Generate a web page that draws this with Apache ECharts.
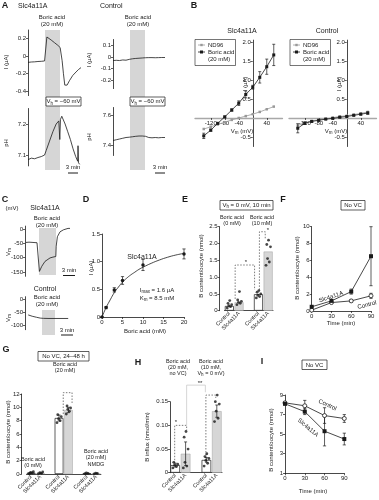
<!DOCTYPE html>
<html><head><meta charset="utf-8">
<script src="https://cdn.jsdelivr.net/npm/echarts@6/dist/echarts.min.js"></script>
<style>html,body{margin:0;padding:0;background:#fff}#c{width:379px;height:500px}</style>
</head><body><div id="c"></div>
<script>
// ================= DATA =================
// Panel A: traces, [time (min), value]
const aSlcCurrent = [[0,-0.07],[1,-0.066],[2,-0.064],[3,-0.06],[4,-0.058],[5,-0.054],[5.6,-0.05],[5.7,0.22],[6.2,0.21],[7,0.185],[8,0.155],[9,0.125],[9.7,0.1],[10,0.08],[10.3,-0.05],[10.7,-0.2],[11.1,-0.33],[11.3,-0.35],[11.8,-0.33],[12.5,-0.28],[13.5,-0.22],[14.5,-0.18],[15.3,-0.15],[16,-0.13]];
const aCtlCurrent = [[0,-0.03],[1,-0.028],[2,-0.03],[3,-0.025],[4,-0.027],[5,-0.02],[6,-0.015],[7,-0.012],[8,-0.01],[9,-0.008],[10,-0.006],[11,-0.005],[12,-0.005],[13,-0.006],[14,-0.005],[15,-0.004],[16,-0.004]];
const aSlcPH = [[0,7.085],[1,7.09],[2,7.088],[3,7.092],[4,7.095],[4.5,7.098],[5,7.1],[5.5,7.115],[6.5,7.145],[7.5,7.175],[8.5,7.2],[9.3,7.21],[9.6,7.15],[9.8,7.215],[10.2,7.225],[10.6,7.22],[11.2,7.2],[12,7.175],[12.8,7.15],[13.6,7.12],[14.4,7.095],[15,7.08],[15.1,7.13],[15.25,7.075],[15.6,7.07]];
const aCtlPH = [[0,7.43],[1,7.435],[2,7.44],[3,7.445],[4,7.45],[5,7.452],[6,7.455],[7,7.458],[8,7.46],[9,7.46],[10,7.458],[11,7.45],[12,7.448],[13,7.45],[14,7.448],[15,7.45],[16,7.45]];
const aSlcCurrentTicks = [-0.4,-0.2,0,0.2];
const aCtlCurrentTicks = [-0.2,-0.1,0,0.1];
const aSlcPHTicks = [7.1,7.2];
const aCtlPHTicks = [7.4,7.6];

// Panel B: I-V curves
const ivVoltages = [-140,-120,-100,-80,-60,-40,-20,0,20,40,60];
const bSlcBoric = [-0.47,-0.32,-0.14,0.03,0.21,0.39,0.62,0.81,1.07,1.35,1.66];
const bSlcBoricErr = [0.07,0.03,0.02,0.02,0.03,0.06,0.09,0.05,0.15,0.2,0.28];
const bSlcND96 = [-0.29,-0.23,-0.17,-0.11,-0.05,0.0,0.05,0.1,0.16,0.23,0.3];
const bCtlBoric = [-0.27,-0.14,-0.09,-0.06,-0.03,-0.01,0.02,0.04,0.07,0.1,0.13];
const bCtlBoricErr = [0.12,0.03,0.02,0.02,0.01,0.01,0.01,0.01,0.01,0.02,0.03];
const bCtlND96 = [-0.2,-0.12,-0.08,-0.05,-0.02,0.01,0.04,0.06,0.09,0.12,0.16];
const bVoltTicks = [-120,-80,-40,40];
const bCurrTicks = [-0.5,0.5,1.0,1.5,2.0];

// Panel C: membrane potential traces [time (min), mV]
const cSlcVm = [[0.25,-47],[1,-46],[2,-47],[3,-48],[3.5,-48],[3.6,-148],[4.2,-130],[5,-113],[6.25,-101],[7,-98],[7.7,-96],[7.8,-60],[8.1,-27],[8.75,-10],[9.6,-3],[10.75,2],[11.25,2]];
const cCtlVm = [[0.8,-59],[1.8,-64],[2.9,-68],[3.8,-71],[4.6,-72],[6,-72.5],[8,-72.5],[10.8,-72.5]];
const cSlcTicks = [-150,-100,-50,0];
const cCtlTicks = [-100,-50,0];

// Panel D: dose response
const dConc = [0,1,3,5,10,20];
const dCurrent = [0,0.17,0.49,0.66,0.94,1.14];
const dErr = [0,0.02,0.04,0.07,0.1,0.09];
const dFit = [[0,0],[1,0.17],[2,0.31],[3,0.44],[4,0.54],[5,0.63],[6,0.7],[7,0.76],[8,0.81],[9,0.86],[10,0.9],[12,0.97],[14,1.03],[16,1.08],[18,1.12],[20,1.15]];
const dConcTicks = [0,5,10,15,20];
const dCurrTicks = [0,0.5,1.0,1.5];

// Panel E: B content (nmol), Vh = 0 mV, 10 min
const eCats = ['Control','Slc4a11A','','Control','Slc4a11A'];
const eMeans = [0.14,0.25,null,0.49,1.76];
const eDotsCtl0 = [0.08,0.12,0.15,0.18,0.22,0.3];
const eDotsSlc0 = [0.18,0.22,0.25,0.28,0.32,0.57];
const eDotsCtl10 = [0.38,0.42,0.46,0.5,0.55,0.6];
const eDotsSlc10 = [1.35,1.45,1.55,1.9,1.97,2.1];
const eTicks = [0,0.5,1.0,1.5,2.0,2.5];

// Panel F: B content over time (no VC)
const fTimes = [0,30,60,90];
const fSlc = [0.5,1.2,2.3,6.5];
const fSlcErr = [0.1,0.2,0.3,3.5];
const fCtl = [0.1,1.0,1.2,1.8];
const fCtlErr = [0.05,0.1,0.15,0.3];
const fTimeTicks = [0,30,60,90];
const fContentTicks = [0,2,4,6,8,10];

// Panel G: 24-48 h
const gCats = ['Control','Slc4a11A','','Control','Slc4a11A','','Control','Slc4a11A'];
const gMeans = [0.2,0.12,null,8.4,9.6,null,0.08,0.08];
const gErr = [0.05,0.05,null,0.45,0.4,null,0.03,0.03];
const gDotsCtl0 = [0.05,0.15,0.25,0.35,0.1];
const gDotsSlc0 = [0.05,0.1,0.2,0.3];
const gDotsCtl20 = [7.7,8.0,8.3,8.6,8.9];
const gDotsSlc20 = [9.0,9.4,9.7,9.9,10.2];
const gDotsCtlNMDG = [0.05,0.1,0.15];
const gDotsSlcNMDG = [0.03,0.08,0.12];
const gTicks = [0,2,4,6,8,10,12];

// Panel H: B influx (nmol/min)
const hCats = ['Control','Slc4a11A','','Control','Slc4a11A'];
const hMeans = [0.016,0.04,null,0.027,0.13];
const hErr = [0.004,0.025,null,0.005,0.013];
const hDotsCtl20 = [0.01,0.013,0.016,0.018,0.022];
const hDotsSlc20 = [0.01,0.014,0.022,0.05,0.075,0.087];
const hDotsCtl10 = [0.014,0.02,0.026,0.03,0.034,0.04];
const hDotsSlc10 = [0.108,0.115,0.13,0.145,0.15,0.164];
const hTicks = [0,0.05,0.10,0.15];

// Panel I: efflux (no VC)
const iTimes = [0,30,60,90];
const iCtl = [8.2,7.9,6.9,6.6];
const iCtlErr = [0.1,0.55,0.8,0.4];
const iSlc = [8.1,7.3,5.3,4.5];
const iSlcErr = [0.1,0.3,1.5,0.6];
const iTimeTicks = [0,30,60,90];
const iContentTicks = [1,3,5,7,9];

// ================= BUILD =================
const FF = '"Liberation Sans", Arial, sans-serif';
const INK = '#1a1a1a';
const GFILL = '#d6d6d6';
const option = {animation:false, textStyle:{fontFamily:FF}, grid:[], xAxis:[], yAxis:[], series:[], graphic:{elements:[]}};
const GR = option.graphic.elements;
const SUB = {s:{fontSize:4.5, fontFamily:FF, fill:INK, padding:[3,0,0,0]}};

function fmtNum(d){ return v => (Math.abs(v)<1e-9 ? '0' : v.toFixed(d)); }
function vAxis(min,max,ticks,o){ o=o||{};
  const has = !!(ticks && ticks.length);
  const ax = {type:'value', min:min, max:max, show:o.show!==false, offset:o.offset||0,
    axisLine:{show:true, onZero:false, lineStyle:{color:o.lineColor||INK, width:o.lineWidth||0.8}},
    axisTick:has?{show:true,length:2,customValues:ticks,lineStyle:{color:INK,width:0.7}}:{show:false},
    axisLabel:has?{show:true,customValues:ticks,fontSize:6,color:INK,fontFamily:FF,margin:2,formatter:o.fmt,hideOverlap:false}:{show:false},
    splitLine:{show:false}};
  if (o.position) ax.position = o.position;
  return ax;
}
function hiddenX(min,max){ return {type:'value',min:min,max:max,show:false}; }
function catAxis(cats){ return {type:'category', data:cats, boundaryGap:true,
  axisLine:{show:true,lineStyle:{color:INK,width:0.8}}, axisTick:{show:false},
  axisLabel:{show:true,interval:0,rotate:45,fontSize:5.5,color:INK,fontFamily:FF,margin:2}, splitLine:{show:false}}; }
function addGrid(box,xa,ya){ const gi=option.grid.length; option.grid.push(Object.assign({show:false},box));
  xa.gridIndex=gi; ya.gridIndex=gi; option.xAxis.push(xa); option.yAxis.push(ya);
  return {gi:gi, xi:option.xAxis.length-1, yi:option.yAxis.length-1}; }
function addX(gi,xa){ xa.gridIndex=gi; option.xAxis.push(xa); return option.xAxis.length-1; }
function trace(ax,data,o){ o=o||{}; option.series.push({type:'line',xAxisIndex:o.xi!=null?o.xi:ax.xi,yAxisIndex:ax.yi,data:data,symbol:'none',showSymbol:false,
  lineStyle:{color:o.color||INK,width:o.w||0.8,type:o.type||'solid'},smooth:!!o.smooth,silent:true,z:o.z||3,clip:o.clip!==false}); }
function marked(ax,data,o){ option.series.push({type:'line',xAxisIndex:ax.xi,yAxisIndex:ax.yi,data:data,symbol:o.symbol,symbolSize:o.size,showSymbol:true,
  lineStyle:{color:o.color,width:o.noLine?0:0.8,opacity:o.noLine?0:1},itemStyle:{color:o.fill,borderColor:o.color,borderWidth:o.bw||0,opacity:1},z:o.z||4,silent:true,clip:false}); }
function errBars(ax,pts,o){ o=o||{}; const col=o.color||INK, cap=o.cap||1.5;
  option.series.push({type:'custom',xAxisIndex:o.xi!=null?o.xi:ax.xi,yAxisIndex:ax.yi,z:o.z||3,silent:true,clip:false,encode:{x:0,y:1},data:pts,
    renderItem:function(p,api){ const x=api.value(0),y=api.value(1),e=api.value(2);
      const t=api.coord([x,y+e]), b=api.coord([x,y-e]); const st={stroke:col,lineWidth:0.7};
      return {type:'group',children:[
        {type:'line',shape:{x1:t[0],y1:t[1],x2:b[0],y2:b[1]},style:st},
        {type:'line',shape:{x1:t[0]-cap,y1:t[1],x2:t[0]+cap,y2:t[1]},style:st},
        {type:'line',shape:{x1:b[0]-cap,y1:b[1],x2:b[0]+cap,y2:b[1]},style:st}]}; }}); }
function bars(ax,cats,values,bw){ option.series.push({type:'bar',xAxisIndex:ax.xi,yAxisIndex:ax.yi,barWidth:bw,silent:true,z:2,
  data:values.map((v,i)=> v==null?null:{value:v,itemStyle: cats[i]==='Control'?{color:'#fff',borderColor:INK,borderWidth:0.7}:{color:GFILL,borderColor:'#a0a0a0',borderWidth:0.5}})}); }
const JIT=[-0.22,0.12,-0.06,0.24,-0.14,0.04,0.2];
function dots(ax,xi,groups){ const data=[]; groups.forEach(g=>g[1].forEach((v,k)=>data.push([g[0]+JIT[k%JIT.length],v])));
  option.series.push({type:'scatter',xAxisIndex:xi,yAxisIndex:ax.yi,data:data,symbol:'circle',symbolSize:2.8,itemStyle:{color:INK},z:6,silent:true,clip:false}); }
function T(x,y,text,o){ o=o||{}; GR.push({type:'text',x:x,y:y,rotation:o.rot||0,z:100,silent:true,
  style:{text:text,fontSize:o.fs||6,fontFamily:FF,fill:o.c||INK,fontWeight:o.fw||'normal',align:o.align||'center',verticalAlign:'middle',rich:o.rich}}); }
function R(x,y,w,h,o){ o=o||{}; GR.push({type:'rect',shape:{x:x,y:y,width:w,height:h},z:o.z!=null?o.z:0,silent:true,
  style:{fill:o.fill||'none',stroke:o.stroke||null,lineWidth:o.lw||0.7}}); }
function L(x1,y1,x2,y2,o){ o=o||{}; GR.push({type:'line',shape:{x1:x1,y1:y1,x2:x2,y2:y2},z:o.z||50,silent:true,style:{stroke:o.c||INK,lineWidth:o.lw||1}}); }
function BOX(x,y,w,h,text,rich){ R(x,y,w,h,{fill:'#fff',stroke:INK,lw:0.7,z:60}); T(x+w/2,y+h/2+0.3,text,{rich:rich}); }
const ROT = Math.PI/2;
const VM = {n:{fontSize:6,fontFamily:FF,fill:INK},s:SUB.s};

// ---------- Panel A ----------
R(45,30,15,140,{fill:GFILL}); R(130,30,15,140,{fill:GFILL});
const aI1 = addGrid({left:28,top:30,width:53,height:65.6}, hiddenX(0,16), vAxis(-0.45,0.3,aSlcCurrentTicks));
trace(aI1,aSlcCurrent);
const aP1 = addGrid({left:28,top:108.5,width:53,height:57.4}, hiddenX(0,16), vAxis(7.065,7.25,aSlcPHTicks,{fmt:fmtNum(1)}));
trace(aP1,aSlcPH);
const aI2 = addGrid({left:113,top:39.5,width:52,height:49.1}, hiddenX(0,16), vAxis(-0.27,0.15,aCtlCurrentTicks));
trace(aI2,aCtlCurrent);
const aP2 = addGrid({left:113,top:107.5,width:52,height:48}, hiddenX(0,16), vAxis(7.33,7.65,aCtlPHTicks,{fmt:fmtNum(1)}));
trace(aP2,aCtlPH);
T(5,6,'A',{fs:9,fw:'bold'});
T(18,6,'Slc4a11A',{fs:7,align:'left'}); T(100,6,'Control',{fs:7,align:'left'});
T(52,17,'Boric acid'); T(52,24.5,'(20 mM)'); T(138,17,'Boric acid'); T(138,24.5,'(20 mM)');
BOX(46,97,35,9,'{n|V}{s|h}{n| = −60 mV}',VM);
BOX(130,97,35,9,'{n|V}{s|h}{n| = −60 mV}',VM);
T(6,62,'I (μA)',{rot:ROT}); T(6,143,'pH',{rot:ROT}); T(89,60,'I (μA)',{rot:ROT}); T(89,137,'pH',{rot:ROT});
L(68,173,78,173); T(73,167.5,'3 min'); L(155,173,165,173); T(160,167.5,'3 min');

// ---------- Panel B ----------
const B_TOP = 40.1, B_H = 106.4, B_W = 87.5;
const B_VMIN = -165, B_VMAX = 85, B_IMIN = -0.75, B_IMAX = 2.05;
function ivPanel(left, nd, bo, be){
  const yZero = B_H * (B_IMAX - 0) / (B_IMAX - B_IMIN);
  const xZero = B_W * (0 - B_VMIN) / (B_VMAX - B_VMIN);
  const ax = addGrid({left:left,top:B_TOP,width:B_W,height:B_H},
    vAxis(B_VMIN,B_VMAX,bVoltTicks,{position:'bottom',offset:-(B_H - yZero),lineColor:'#a8a8a8',lineWidth:1.3}),
    vAxis(B_IMIN,B_IMAX,bCurrTicks,{position:'left',offset:-xZero,fmt:fmtNum(1)}));
  marked(ax, ivVoltages.map((v,i)=>[v,nd[i]]), {symbol:'rect',size:2.5,color:'#999',fill:'#999'});
  marked(ax, ivVoltages.map((v,i)=>[v,bo[i]]), {symbol:'rect',size:3,color:INK,fill:INK,z:5});
  errBars(ax, ivVoltages.map((v,i)=>[v,bo[i],be[i]]), {cap:1.5,z:5});
  return ax;
}
ivPanel(195,bSlcND96,bSlcBoric,bSlcBoricErr);
ivPanel(289,bCtlND96,bCtlBoric,bCtlBoricErr);
T(194,6,'B',{fs:9,fw:'bold'});
T(242,31,'Slc4a11A',{fs:7}); T(327,31,'Control',{fs:7});
function ivLegend(x){ R(x,39.5,40.5,26,{fill:'#fff',stroke:INK,lw:0.6,z:60});
  L(x+3,45,x+10,45,{c:'#999',lw:0.8,z:61}); R(x+5.3,43.8,2.4,2.4,{fill:'#999',z:62}); T(x+13,45,'ND96',{align:'left'});
  L(x+3,52,x+10,52,{c:INK,lw:0.8,z:61}); R(x+5,50.5,3,3,{fill:INK,z:62}); T(x+13,52,'Boric acid',{align:'left'}); T(x+13,59,'(20 mM)',{align:'left'}); }
ivLegend(195); ivLegend(290);
T(245,84,'I (μA)',{rot:ROT}); T(339,84,'I (μA)',{rot:ROT});
T(242,131,'{n|V}{s|m}{n| (mV)}',{rich:VM}); T(336,131,'{n|V}{s|m}{n| (mV)}',{rich:VM});

// ---------- Panel C ----------
R(39,228,17,47,{fill:GFILL}); R(42,310,13,25,{fill:GFILL});
const cS = addGrid({left:25,top:226.1,width:45,height:50.2}, hiddenX(0,11.25), vAxis(-165,10,cSlcTicks));
trace(cS,cSlcVm);
const cC = addGrid({left:25,top:296.7,width:45,height:33}, hiddenX(0,11.25), vAxis(-115,10,cCtlTicks));
trace(cC,cCtlVm);
T(5,200,'C',{fs:9,fw:'bold'});
T(12,208,'(mV)'); T(45,208.5,'Slc4a11A',{fs:7}); T(47,218,'Boric acid'); T(47,225,'(20 mM)');
T(8,252,'{n|V}{s|m}',{rot:ROT,rich:VM}); T(8,318,'{n|V}{s|m}',{rot:ROT,rich:VM});
T(45,289,'Control',{fs:7}); T(47,297,'Boric acid'); T(47,304,'(20 mM)');
L(63,275.5,75,275.5); T(69,270.5,'3 min'); L(61,335,73,335); T(67,330.5,'3 min');

// ---------- Panel D ----------
const dA = addGrid({left:102,top:234,width:82,height:83}, vAxis(0,20,dConcTicks), vAxis(0,1.5,dCurrTicks,{fmt:fmtNum(1)}));
trace(dA,dFit,{smooth:true,clip:false});
marked(dA, dConc.map((c,i)=>[c,dCurrent[i]]), {symbol:'circle',size:3.5,color:INK,fill:INK,z:5,noLine:true});
errBars(dA, dConc.map((c,i)=>[c,dCurrent[i],dErr[i]]), {cap:1.6,z:5});
T(86,200,'D',{fs:9,fw:'bold'});
T(142,257,'Slc4a11A',{fs:7});
T(157,290,'{n|I}{s|max}{n| = 1.6 μA}',{rich:VM}); T(157,298,'{n|K}{s|m}{n| = 8.5 mM}',{rich:VM});
T(91,268,'I (μA)',{rot:ROT}); T(145,331,'Boric acid (mM)');

// ---------- Panel E ----------
const eA = addGrid({left:224.5,top:226.7,width:48.5,height:84}, catAxis(eCats), vAxis(0,2.5,eTicks,{fmt:fmtNum(1),offset:5}));
const eXi = addX(eA.gi, hiddenX(-0.5,4.5));
bars(eA,eCats,eMeans,9);
dots(eA,eXi,[[0,eDotsCtl0],[1,eDotsSlc0],[3,eDotsCtl10],[4,eDotsSlc10]]);
trace(eA,[[0.6,0.35],[0.6,1.36],[2.6,1.36],[2.6,0.62]],{xi:eXi,color:'#444',w:0.7,type:[1.5,1.5],clip:false});
trace(eA,[[3.1,0.62],[3.1,2.35],[3.7,2.35],[3.7,2.15]],{xi:eXi,color:'#444',w:0.7,type:[1.5,1.5],clip:false});
T(185,200,'E',{fs:9,fw:'bold'});
BOX(220,200.5,53,9.5,'{n|V}{s|h}{n| = 0 mV, 10 min}',VM);
T(232,217.5,'Boric acid',{fs:5.5}); T(232,223.5,'(0 mM)',{fs:5.5});
T(262,217.5,'Boric acid',{fs:5.5}); T(262,223.5,'(10 mM)',{fs:5.5});
T(201,266,'B content/oocyte (nmol)',{rot:ROT});
T(246,262,'*',{fs:6}); T(268,230,'*',{fs:6});

// ---------- Panel F ----------
const fA = addGrid({left:311.7,top:226.7,width:59.3,height:84.3}, vAxis(0,90,fTimeTicks), vAxis(0,10,fContentTicks));
marked(fA, fTimes.map((t,i)=>[t,fCtl[i]]), {symbol:'circle',size:4,color:INK,fill:'#fff',bw:0.8,z:4});
marked(fA, fTimes.map((t,i)=>[t,fSlc[i]]), {symbol:'rect',size:4,color:INK,fill:INK,z:5});
errBars(fA, fTimes.map((t,i)=>[t,fSlc[i],fSlcErr[i]]), {cap:1.6});
errBars(fA, fTimes.map((t,i)=>[t,fCtl[i],fCtlErr[i]]), {cap:1.6});
T(283,200,'F',{fs:9,fw:'bold'});
BOX(341,200.5,24,9.5,'No VC');
T(297,268,'B content/oocyte (nmol)',{rot:ROT});
T(341,323,'Time (min)');
T(331,297,'Slc4a11A',{rot:0.32}); T(367,305,'Control',{rot:0.26});

// ---------- Panel G ----------
const gA = addGrid({left:26.5,top:394,width:74.4,height:80}, catAxis(gCats), vAxis(0,12,gTicks,{offset:4.8}));
const gXi = addX(gA.gi, hiddenX(-0.5,7.5));
bars(gA,gCats,gMeans,8.8);
errBars(gA, gMeans.map((m,i)=>m==null?null:[i,m,gErr[i]]).filter(Boolean), {xi:gXi,cap:1.5,z:5});
dots(gA,gXi,[[0,gDotsCtl0],[1,gDotsSlc0],[3,gDotsCtl20],[4,gDotsSlc20],[6,gDotsCtlNMDG],[7,gDotsSlcNMDG]]);
trace(gA,[[3.45,9.0],[3.45,12.2],[4.4,12.2],[4.4,10.6]],{xi:gXi,color:'#444',w:0.7,type:[1.5,1.5],clip:false});
T(6,350,'G',{fs:9,fw:'bold'});
BOX(38,351.5,51,9.5,'No VC, 24–48 h');
T(65,364,'Boric acid',{fs:5.5}); T(65,370.5,'(20 mM)',{fs:5.5});
T(33,459,'Boric acid',{fs:5.5}); T(33,465.5,'(0 mM)',{fs:5.5});
T(96,451,'Boric acid',{fs:5.5}); T(96,457.5,'(20 mM)',{fs:5.5}); T(96,464,'NMDG',{fs:5.5});
T(8,432,'B content/oocyte (nmol)',{rot:ROT});

// ---------- Panel H ----------
const hA = addGrid({left:170,top:401.7,width:52,height:71}, catAxis(hCats), vAxis(0,0.15,hTicks,{fmt:fmtNum(2)}));
const hXi = addX(hA.gi, hiddenX(-0.5,4.5));
bars(hA,hCats,hMeans,9.6);
errBars(hA, hMeans.map((m,i)=>m==null?null:[i,m,hErr[i]]).filter(Boolean), {xi:hXi,cap:1.5,z:5});
dots(hA,hXi,[[0,hDotsCtl20],[1,hDotsSlc20],[3,hDotsCtl10],[4,hDotsSlc10]]);
trace(hA,[[-0.05,0.02],[-0.05,0.1],[1.1,0.1],[1.1,0.09]],{xi:hXi,color:'#444',w:0.7,type:[1.5,1.5],clip:false});
trace(hA,[[1.1,0.1],[1.1,0.185],[2.9,0.185],[2.9,0.17]],{xi:hXi,color:'#bbb',w:0.6,clip:false});
trace(hA,[[2.95,0.03],[2.95,0.164],[3.9,0.164],[3.9,0.158]],{xi:hXi,color:'#444',w:0.7,type:[1.5,1.5],clip:false});
T(138,363,'H',{fs:9,fw:'bold'});
T(178,361.5,'Boric acid',{fs:5.5}); T(178,367.5,'(20 mM,',{fs:5.5}); T(178,373.5,'no VC)',{fs:5.5});
T(211,361.5,'Boric acid',{fs:5.5}); T(211,367.5,'(10 mM,',{fs:5.5}); T(211,373.5,'{n|V}{s|h}{n| = 0 mV)}',{rich:{n:{fontSize:5.5,fontFamily:FF,fill:INK},s:SUB.s}});
T(147,437,'B influx (nmol/min)',{rot:ROT});
T(176,422,'*',{fs:6}); T(200,383,'**',{fs:6});

// ---------- Panel I ----------
const iA = addGrid({left:285,top:395,width:59.3,height:78.3}, vAxis(0,90,iTimeTicks), vAxis(1,9,iContentTicks));
marked(iA, iTimes.map((t,i)=>[t,iCtl[i]]), {symbol:'circle',size:4,color:INK,fill:'#fff',bw:0.8,z:4});
marked(iA, iTimes.map((t,i)=>[t,iSlc[i]]), {symbol:'rect',size:4,color:INK,fill:INK,z:5});
errBars(iA, iTimes.map((t,i)=>[t,iCtl[i],iCtlErr[i]]), {cap:1.6});
errBars(iA, iTimes.map((t,i)=>[t,iSlc[i],iSlcErr[i]]), {cap:1.6});
T(262,362,'I',{fs:9,fw:'bold'});
BOX(302,360,25,9.5,'No VC');
T(271,440,'B content/oocyte (nmol)',{rot:ROT});
T(313,491,'Time (min)');
T(327.5,405,'Control',{rot:-0.44}); T(308,427.7,'Slc4a11A',{rot:-0.7});

const chart = echarts.init(document.getElementById('c'), null, {renderer:'canvas'});
chart.setOption(option);
</script>
</body></html>
